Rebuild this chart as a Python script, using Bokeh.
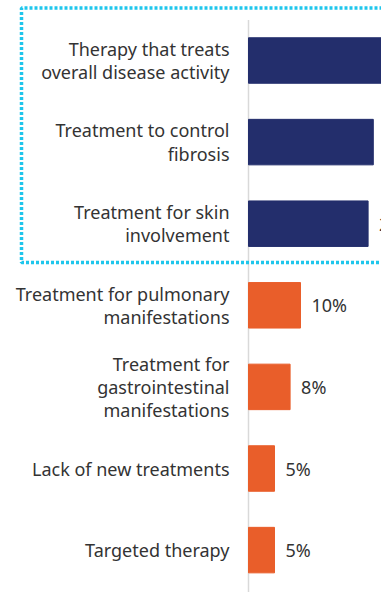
from bokeh.plotting import figure
from bokeh.models import Range1d, ColumnDataSource
from bokeh.core.properties import value
from bokeh.embed import file_html
from bokeh.resources import INLINE

categories = [
    "Therapy that treats\noverall disease activity",
    "Treatment to control\nfibrosis",
    "Treatment for skin\ninvolvement",
    "Treatment for pulmonary\nmanifestations",
    "Treatment for\ngastrointestinal\nmanifestations",
    "Lack of new treatments",
    "Targeted therapy",
]
values = [30, 24, 23, 10, 8, 5, 5]
highlighted = [True, True, True, False, False, False, False]

NAVY = "#232e6c"
ORANGE = "#e95e2a"

pos = list(range(len(categories)))
colors = [NAVY if h else ORANGE for h in highlighted]
labels = [f"{v}%" for v in values]

W, H = 381, 592
px_per_unit = 5.2
axis_px = 248
x0 = -axis_px / px_per_unit
x1 = (W - axis_px) / px_per_unit
step = 81.6
first_center = 60
y_top = -first_center / step
y_bot = (H - first_center) / step

src = ColumnDataSource(dict(y=pos, v=values, c=colors, cat=categories, lab=labels,
                            lx=[v + 11 / px_per_unit for v in values]))

p = figure(width=W, height=H, output_backend="svg", toolbar_location=None,
           x_range=Range1d(x0, x1), y_range=Range1d(y_bot, y_top),
           min_border=0, min_border_left=0, min_border_right=0,
           min_border_top=0, min_border_bottom=0)
p.axis.visible = False
p.grid.visible = False
p.outline_line_color = None
p.background_fill_color = "white"
p.border_fill_color = "white"

# vertical axis line
p.segment(x0=[0], y0=[y_top + 19.5 / step], x1=[0], y1=[y_bot], line_color="#d9d9d9", line_width=1.5)

p.hbar(y="y", left=0, right="v", height=45.5 / step, fill_color="c", line_color="c", source=src)

p.text(x=-19 / px_per_unit, y="y", text="cat", source=src, text_align="right",
       text_baseline="middle", text_font=value("Noto Sans"), text_font_size="18px",
       text_color="#333333", text_line_height=0.97)

p.text(x="lx", y="y", text="lab", source=src, text_align="left",
       text_baseline="middle", text_font=value("Noto Sans"), text_font_size="18px",
       text_color="#333333")

# dotted highlight box (top three categories)
bx0 = x0 + 21 / px_per_unit
bx1 = x1 + 5
by0 = y_top + 7.5 / step
by1 = y_top + 262 / step
p.multi_line(xs=[[bx1, bx0, bx0, bx1]], ys=[[by0, by0, by1, by1]],
             line_color="#1fc6ec", line_width=3.5, line_dash="3 2", line_cap="butt")

open("out.html", "w").write(file_html(p, INLINE))
